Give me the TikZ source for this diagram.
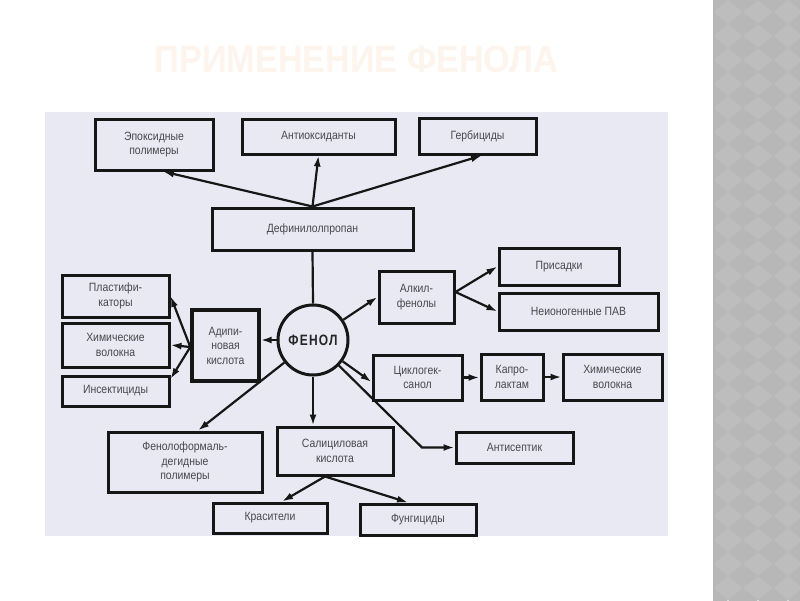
\documentclass[tikz,border=0pt]{standalone}
\usepackage{fontspec}
\setmainfont{Liberation Sans}
\newfontfamily\narrowfont[FakeStretch=0.87]{Liberation Sans}
\newfontfamily\fenolfont[FakeStretch=0.8,LetterSpace=8]{Liberation Sans}
\newfontfamily\titlefont[FakeStretch=0.9]{Liberation Sans}
\usetikzlibrary{arrows.meta,calc}
\definecolor{bgpanel}{RGB}{233,233,243}
\definecolor{txt}{RGB}{72,72,78}
\definecolor{titlecol}{RGB}{253,245,237}
\definecolor{band}{RGB}{189,189,189}
\definecolor{banddark}{RGB}{183,183,183}
\definecolor{ink}{RGB}{22,22,22}
\tikzset{
  box/.style={draw=ink, line width=3pt, fill=bgpanel, inner sep=0pt, align=center,
    font=\narrowfont\fontsize{12}{14.5}\selectfont, text=txt},
  conn/.style={line width=2.2pt, draw=ink},
  arr/.style={conn, -{Latex[length=11pt,width=7pt]}}
}
\begin{document}
\begin{tikzpicture}[x=1pt,y=-1pt]
\useasboundingbox (0,0) rectangle (800,600);
\fill[white] (0,0) rectangle (800,600);
% right decorative band
\fill[band] (713,0) rectangle (800,600);
\begin{scope}
\clip (713,0) rectangle (800,600);
\foreach \i in {0,...,3}{
  \foreach \j in {0,...,25}{
    \fill[banddark] ({713+\i*30},{\j*24}) +(-15,0) -- +(0,12) -- +(15,0) -- +(0,-12) -- cycle;
  }
}
\end{scope}
\draw[line width=1pt, black!30] (713,0) -- (713,600);
% title
\node[font=\titlefont\bfseries\fontsize{38}{42}\selectfont, text=titlecol] (title) at (356.5,59) {ПРИМЕНЕНИЕ ФЕНОЛА};
% panel
\fill[bgpanel] (45,112) rectangle (668,536);
% nodes
\node[box, minimum width=118pt, minimum height=51pt] (epox) at (154,144.5) {Эпоксидные\\полимеры};
\node[box, minimum width=153pt, minimum height=35pt] (anti) at (318.5,136.5) {Антиоксиданты};
\node[box, minimum width=117pt, minimum height=36pt] (herb) at (477.5,136) {Гербициды};
\node[box, minimum width=201pt, minimum height=42pt] (defin) at (312.5,229) {Дефинилолпропан};
\node[circle, draw=ink, line width=3pt, fill=bgpanel, minimum size=70pt, inner sep=0pt,
  text=black!85, font=\fenolfont\bfseries\fontsize{15}{16}\selectfont] (fenol) at (313,340) {ФЕНОЛ};
\node[box, line width=3.4pt, minimum width=67pt, minimum height=71pt] (adip) at (225.5,345.5) {Адипи-\\новая\\кислота};
\node[box, minimum width=107pt, minimum height=42pt] (plast) at (115.5,296) {Пластифи-\\каторы};
\node[box, minimum width=107pt, minimum height=44pt] (chemA) at (115.5,345) {Химические\\волокна};
\node[box, minimum width=107pt, minimum height=30pt] (insect) at (115.5,391) {Инсектициды};
\node[box, minimum width=75pt, minimum height=52pt] (alk) at (416.5,297) {Алкил-\\фенолы};
\node[box, minimum width=120pt, minimum height=37pt] (pris) at (559,266.5) {Присадки};
\node[box, minimum width=159pt, minimum height=37pt] (neion) at (578.5,311.5) {Неионогенные ПАВ};
\node[box, minimum width=89pt, minimum height=45pt] (cyc) at (417.5,377.5) {Циклогек-\\санол};
\node[box, minimum width=62pt, minimum height=46pt] (kapro) at (512,377) {Капро-\\лактам};
\node[box, minimum width=99pt, minimum height=46pt] (chemB) at (612.5,377) {Химические\\волокна};
\node[box, minimum width=117pt, minimum height=31pt] (antis) at (514.5,447.5) {Антисептик};
\node[box, minimum width=116pt, minimum height=48pt] (sal) at (335,451) {Салициловая\\кислота};
\node[box, minimum width=154pt, minimum height=60pt] (phf) at (185,462) {Фенолоформаль-\\дегидные\\полимеры};
\node[box, minimum width=114pt, minimum height=30pt] (kras) at (270,518) {Красители};
\node[box, minimum width=116pt, minimum height=31pt] (fung) at (418,519.5) {Фунгициды};
\coordinate (acorner) at (422,447.5);
% connectors
\draw[arr] (defin.north) -- ($(epox.south)+(9,0)$);
\draw[arr] (defin.north) -- (anti.south);
\draw[arr] (defin.north) -- ($(herb.south)+(4.5,0)$);
\draw[conn] (defin.south) -- (fenol.north);
\draw[arr] (fenol.west) -- (fenol.west -| adip.east);
\draw[arr] ($(adip.west)+(0,1.5)$) -- (plast.east);
\draw[arr] ($(adip.west)+(0,1.5)$) -- (chemA.east);
\draw[arr] ($(adip.west)+(0,1.5)$) -- ($(insect.east)+(0,-12)$);
\draw[arr] (fenol) -- (alk.west);
\draw[arr] ($(alk.east)+(0,-5)$) -- (pris.west);
\draw[arr] ($(alk.east)+(0,-5)$) -- (neion.west);
\draw[arr] (fenol) -- ($(cyc.west)+(0,4.5)$);
\draw[arr] (cyc.east) -- (cyc.east -| kapro.west);
\draw[arr] (kapro.east) -- (kapro.east -| chemB.west);
\draw[arr] (fenol) -- (acorner) -- (antis.west);
\draw[arr] (fenol.south) -- (fenol.south |- sal.north);
\draw[arr] (fenol) -- ($(phf.north)+(13,0)$);
\draw[arr] ($(sal.south)+(-10,0)$) -- ($(kras.north)+(12,0)$);
\draw[arr] ($(sal.south)+(-10,0)$) -- ($(fung.north)+(-10,0)$);
\end{tikzpicture}
\end{document}
